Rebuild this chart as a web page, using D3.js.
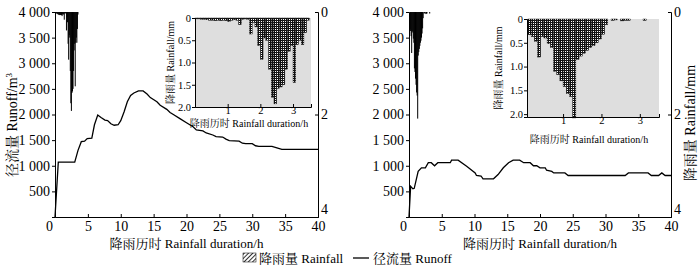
<!DOCTYPE html>
<html>
<head>
<meta charset="utf-8">
<script src="https://cdn.jsdelivr.net/npm/d3@7"></script>
<style>
  body { margin: 0; background: #fff; }
  svg text { font-family: "Liberation Serif", "Noto Serif CJK SC", "Noto Sans CJK SC", serif; fill: #000; }
</style>
</head>
<body>
<div id="chart"></div>
<script>
// rainfall is recorded in 5 minute steps (hours)
const stepHours = 5 / 60;

// rainfall per step, mm (left event / right event)
const rainLeft = [0.02, 0.02, 0.03, 0.03, 0.04, 0.05, 0.05, 0.06, 0.05, 0.06, 0.05, 0.06, 0.08, 0.05,
  0.04, 0.05, 0.15, 0.03, 0.02, 0.03, 0.36, 0.10, 0.20, 0.62, 0.93, 0.45, 0.50, 1.15, 1.78, 1.93,
  1.58, 1.55, 1.50, 1.15, 0.75, 0.62, 1.45, 0.60, 0.50, 0.60, 0.33, 0.05];
const rainRight = [0, 0.33, 0.37, 0.47, 0.80, 0.37, 0.40, 0.52, 0.60, 1.10, 1.17, 1.30, 1.42, 1.57,
  1.63, 2.08, 0.85, 0.78, 0.72, 0.66, 0.60, 0.56, 0.50, 0.42, 0.32, 0.12, 0, 0.03, 0.02, 0,
  0.04, 0.03, 0.03, 0, 0, 0, 0, 0.03, 0];

// runoff, m3
const runoffLeftHours = [0, 0.5, 3.0, 3.5, 4.0, 4.5, 4.9, 5.6, 6.0, 6.5, 7.0, 7.6, 8.0, 8.5, 9.0, 9.6,
  10.0, 10.5, 11.0, 11.5, 12.0, 12.7, 13.4, 14.0, 14.5, 15.5, 16.0, 17.0, 17.5, 18.0, 19.0, 20.0,
  21.0, 21.5, 22.5, 23.0, 24.0, 24.5, 25.5, 26.0, 26.5, 28.0, 28.5, 29.0, 30.0, 30.5, 31.0, 33.0,
  34.0, 34.5, 40.0];
const runoffLeftValues = [0, 1070, 1070, 1300, 1470, 1480, 1530, 1540, 1800, 1990, 1940, 1890, 1880,
  1820, 1790, 1800, 1880, 2050, 2250, 2370, 2420, 2460, 2460, 2400, 2330, 2250, 2180, 2100, 2040,
  2000, 1920, 1840, 1760, 1700, 1680, 1640, 1600, 1570, 1560, 1520, 1490, 1480, 1440, 1430, 1430,
  1390, 1380, 1380, 1340, 1320, 1320];
const runoffRightHours = [0, 0.25, 0.6, 0.8, 1.4, 1.9, 2.5, 2.95, 3.4, 3.9, 4.4, 6.3, 6.5, 7.5, 8.8,
  10.1, 10.3, 11.0, 11.3, 12.9, 13.6, 14.4, 15.2, 15.9, 16.9, 17.5, 18.5, 19.0, 19.5, 20.0, 20.8,
  21.0, 21.8, 22.1, 23.8, 24.3, 33.0, 33.5, 36.5, 37.0, 38.1, 38.6, 39.1, 40];
const runoffRightValues = [0, 600, 550, 560, 893, 960, 960, 1060, 1060, 1000, 1060, 1060, 1110, 1110,
  990, 860, 810, 800, 745, 745, 828, 960, 1060, 1110, 1110, 1060, 1060, 1000, 1000, 960, 960, 912,
  890, 860, 860, 810, 810, 860, 860, 810, 810, 860, 810, 810];

// tick labels
const durationTicks = [0, 5, 10, 15, 20, 25, 30, 35, 40];
const runoffTicks = [500, 1000, 1500, 2000, 2500, 3000, 3500, 4000];
const rainMainTicks = [0, 2, 4];
const insetHourTicks = [1, 2, 3];
const insetRainTicks = [0, 0.5, 1.0, 1.5, 2.0];

const width = 700;
const height = 270;
const plotTop = 12, plotBottom = 217;

const spaceFmt = d3.formatLocale({ decimal: ".", thousands: " ", grouping: [3], currency: ["", ""] }).format(",");
const insetFmt = d => d === 0 ? "0" : d3.format(".1f")(d);
const intFmt = d3.format("d");

const svg = d3.select("#chart").append("svg")
  .attr("width", width)
  .attr("height", height);

const defs = svg.append("defs");
// dotted fill used for the inset bars
const dots = defs.append("pattern")
  .attr("id", "dots")
  .attr("width", 2).attr("height", 2)
  .attr("patternUnits", "userSpaceOnUse");
dots.append("rect").attr("width", 2).attr("height", 2).attr("fill", "#111");
dots.append("rect").attr("x", 1).attr("y", 1).attr("width", 1).attr("height", 1).attr("fill", "#fff");
// hatch for the legend swatch
const hatch = defs.append("pattern")
  .attr("id", "hatch")
  .attr("width", 3).attr("height", 3)
  .attr("patternUnits", "userSpaceOnUse")
  .attr("patternTransform", "rotate(45)");
hatch.append("rect").attr("width", 3).attr("height", 3).attr("fill", "#fff");
hatch.append("line").attr("x1", 0).attr("y1", 0).attr("x2", 0).attr("y2", 3)
  .attr("stroke", "#000").attr("stroke-width", 1.6);

const panels = [
  {
    x0: 55, x1: 318, rain: rainLeft, hours: runoffLeftHours, values: runoffLeftValues,
    leftTitle: true, rightTitle: false,
    inset: { x0: 195, x1: 311, y0: 18, y1: 107, tMin: 0, tMax: 3.55, rMax: 2.0, labelX: 170, labelY: 127 }
  },
  {
    x0: 409, x1: 671, rain: rainRight, hours: runoffRightHours, values: runoffRightValues,
    leftTitle: false, rightTitle: true,
    inset: { x0: 527, x1: 659, y0: 19, y1: 117, tMin: 0.06, tMax: 3.5, rMax: 2.06, labelX: 498, labelY: 143 }
  }
];

function styleAxis(g, size) {
  g.select(".domain").attr("stroke", "#000").attr("stroke-width", 1);
  g.selectAll(".tick line").attr("stroke", "#000");
  g.selectAll(".tick text").style("font-size", size + "px").attr("fill", "#000");
}

function drawPanel(cfg) {
  const g = svg.append("g");

  const x = d3.scaleLinear().domain([0, 40]).range([cfg.x0, cfg.x1]);
  const y = d3.scaleLinear().domain([0, 4000]).range([plotBottom, plotTop]);
  const yRain = d3.scaleLinear().domain([0, 4]).range([plotTop, plotBottom]);

  // rainfall bars hanging from the top of the main plot
  g.append("g").selectAll("rect")
    .data(cfg.rain.map((v, i) => ({ i, v })).filter(d => d.v > 0))
    .enter().append("rect")
    .attr("x", d => x(d.i * stepHours))
    .attr("y", yRain(0))
    .attr("width", d => Math.max(1, x((d.i + 1) * stepHours) - x(d.i * stepHours)))
    .attr("height", d => yRain(d.v) - yRain(0))
    .attr("fill", "#000");

  // runoff line
  const line = d3.line()
    .x((d, i) => x(cfg.hours[i]))
    .y(d => y(d));
  g.append("path")
    .datum(cfg.values)
    .attr("d", line)
    .attr("fill", "none")
    .attr("stroke", "#000")
    .attr("stroke-width", 1.3);

  // axes
  const xAxis = g.append("g")
    .attr("transform", `translate(0,${plotBottom})`)
    .call(d3.axisBottom(x).tickValues(durationTicks).tickFormat(intFmt).tickSize(-3).tickPadding(4));
  styleAxis(xAxis, 14);
  xAxis.selectAll(".tick text").filter(d => d === 0).attr("dx", -6);

  const yAxis = g.append("g")
    .attr("transform", `translate(${cfg.x0},0)`)
    .call(d3.axisLeft(y).tickValues(runoffTicks).tickFormat(spaceFmt).tickSize(3).tickPadding(2));
  styleAxis(yAxis, 14);

  const rAxis = g.append("g")
    .attr("transform", `translate(${cfg.x1},0)`)
    .call(d3.axisRight(yRain).tickValues(rainMainTicks).tickFormat(intFmt).tickSize(-3).tickPadding(3));
  styleAxis(rAxis, 14);
  // the bottom "4" sits just above the 40 label
  rAxis.selectAll(".tick text").filter(d => d === 4).attr("dy", "-0.25em");

  g.append("text")
    .attr("x", (cfg.x0 + cfg.x1) / 2)
    .attr("y", 248)
    .attr("text-anchor", "middle")
    .style("font-size", "13px")
    .text("降雨历时 Rainfall duration/h");

  if (cfg.leftTitle) {
    g.append("text")
      .attr("transform", `translate(17,125) rotate(-90)`)
      .attr("text-anchor", "middle")
      .style("font-size", "14px")
      .html("径流量 Runoff/m<tspan baseline-shift='super' font-size='9px'>3</tspan>");
  }
  if (cfg.rightTitle) {
    g.append("text")
      .attr("transform", `translate(695,123) rotate(-90)`)
      .attr("text-anchor", "middle")
      .style("font-size", "14px")
      .text("降雨量 Rainfall/mm");
  }

  drawInset(g, cfg.rain, cfg.inset);
}

function drawInset(parent, rain, ins) {
  const g = parent.append("g");
  const xi = d3.scaleLinear().domain([ins.tMin, ins.tMax]).range([ins.x0, ins.x1]);
  const yi = d3.scaleLinear().domain([0, ins.rMax]).range([ins.y0, ins.y1]);

  g.append("rect")
    .attr("x", ins.x0).attr("y", ins.y0)
    .attr("width", ins.x1 - ins.x0)
    .attr("height", ins.y1 - ins.y0)
    .attr("fill", "#dedede");

  g.append("g").selectAll("rect")
    .data(rain.map((v, i) => ({ i, v })).filter(d => d.v > 0))
    .enter().append("rect")
    .attr("x", d => xi(d.i * stepHours))
    .attr("y", yi(0))
    .attr("width", d => xi((d.i + 1) * stepHours) - xi(d.i * stepHours))
    .attr("height", d => yi(d.v) - yi(0))
    .attr("fill", "url(#dots)")
    .attr("stroke", "#111")
    .attr("stroke-width", 0.4);

  const xAx = g.append("g")
    .attr("transform", `translate(0,${ins.y1})`)
    .call(d3.axisBottom(xi).tickValues(insetHourTicks).tickFormat(intFmt).tickSize(-3).tickPadding(0));
  styleAxis(xAx, 10.5);

  const yAx = g.append("g")
    .attr("transform", `translate(${ins.x0},0)`)
    .call(d3.axisLeft(yi).tickValues(insetRainTicks).tickFormat(insetFmt).tickSize(3).tickPadding(1));
  styleAxis(yAx, 10.5);

  g.append("text")
    .attr("x", (ins.x0 + ins.x1) / 2 - 4)
    .attr("y", ins.labelY)
    .attr("text-anchor", "middle")
    .style("font-size", "10px")
    .text("降雨历时 Rainfall duration/h");

  g.append("text")
    .attr("transform", `translate(${ins.labelX + 4},${(ins.y0 + ins.y1) / 2}) rotate(-90)`)
    .attr("text-anchor", "middle")
    .style("font-size", "10px")
    .text("降雨量 Rainfall/mm");
}

panels.forEach(drawPanel);

// legend
const legend = svg.append("g").attr("transform", "translate(243,258)");
legend.append("rect")
  .attr("x", 0).attr("y", -5)
  .attr("width", 13).attr("height", 9)
  .attr("fill", "url(#hatch)")
  .attr("stroke", "#000").attr("stroke-width", 0.5);
legend.append("text")
  .attr("x", 16).attr("y", 4.5)
  .style("font-size", "13px")
  .text("降雨量 Rainfall");
legend.append("line")
  .attr("x1", 110).attr("x2", 126)
  .attr("y1", 0).attr("y2", 0)
  .attr("stroke", "#000").attr("stroke-width", 1.3);
legend.append("text")
  .attr("x", 130).attr("y", 4.5)
  .style("font-size", "13px")
  .text("径流量 Runoff");
</script>
</body>
</html>
